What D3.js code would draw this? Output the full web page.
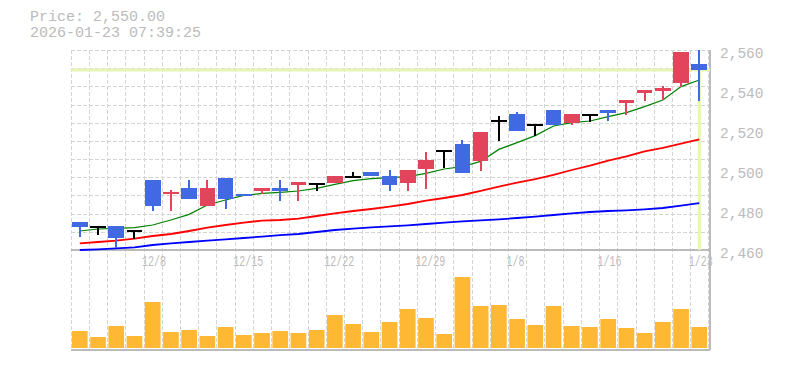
<!DOCTYPE html>
<html>
	<head>
		<meta charset="utf-8">
		<script type="text/javascript" src="https://cdn.jsdelivr.net/npm/d3@7/dist/d3.min.js"></script>
		<style>
			body { margin: 0; background: #fff; }
			text { font-family: "Liberation Mono", "DejaVu Sans Mono", monospace; fill: #bbb; }
		</style>
	</head>
	<body>
		<div id="chart"></div>
		<script language="javascript" type="text/javascript">

			///////////////////////////////////////////////////////////////////////////
			///////////////////////////////// Data ////////////////////////////////////
			var dates = ["12/2","12/3","12/4","12/5","12/8","12/9","12/10","12/11","12/12",
				"12/15","12/16","12/17","12/18","12/19","12/22","12/23","12/24","12/25","12/26",
				"12/29","12/30","1/5","1/6","1/7","1/8","1/9","1/13","1/14","1/15","1/16",
				"1/19","1/20","1/21","1/22","1/23"];
			var opens  = [2474,2472,2472,2470,2495,2488,2491,2482,2496,2488,2489.5,2491,2492.5,2493.5,2493.5,2497,2499,2497,2493.5,2500.5,2510,2513,2504.5,2525,2528,2523,2530,2523.5,2528,2530,2533.5,2538.5,2539.5,2543.5,2553];
			var highs  = [2474,2472,2472,2470,2495,2490,2495,2495,2496,2488,2491,2495,2494,2493.5,2497,2499,2499,2500,2500,2509,2510,2515,2519,2527,2529,2523,2530,2528,2528,2530,2535,2540,2542,2559,2560];
			var lows   = [2466.5,2467.5,2461,2465.5,2479.5,2479.5,2485.5,2482,2480.5,2487,2488,2484.5,2484.5,2489.5,2493.5,2497,2497,2489.5,2489.5,2490.5,2501,2498.5,2499.5,2514.5,2519.5,2517,2522.5,2522.5,2524,2524.5,2527.5,2534.5,2535,2541.5,2534.5];
			var closes = [2471.5,2472,2466,2470,2482,2489,2485.5,2491,2485.5,2487,2491,2489.5,2494,2493.5,2497,2497,2497,2492.5,2500,2505,2510,2498.5,2519,2525,2519.5,2523,2522.5,2528,2528,2528.5,2535,2540,2541,2559,2550];
			var volumes = [34000,22000,44000,24000,92000,32000,36000,24000,42000,26000,30000,34000,30000,36000,66000,48000,32000,52000,78000,60000,28000,142000,84000,86000,58000,46000,84000,44000,42000,58000,40000,30000,52000,78000,42000];
			var ma5  = [2469.5,2470.5,2470.8,2471.2,2472.5,2475,2477.8,2482.5,2485,2487.3,2488.3,2488.8,2489.5,2490.8,2492.8,2494.7,2495.7,2496.2,2496.7,2498.3,2500.5,2501.7,2504.3,2510.3,2513.7,2517.2,2522,2523.7,2524.5,2526.7,2528.7,2531.7,2535,2541.7,2545];
			var ma25 = [2463.3,2464,2464.7,2465.7,2467,2468,2469.5,2471.2,2472.5,2473.7,2474.7,2475,2475.7,2477,2478.3,2479.5,2480.5,2481.7,2483,2484.7,2486,2487.5,2489.6,2491.7,2493.7,2495.4,2497.6,2500,2502.2,2504.7,2506.8,2509.3,2511.1,2513.2,2515.3];
			var ma75 = [2460,2460.3,2460.8,2461.3,2462.5,2463.3,2464,2464.7,2465.3,2466,2466.7,2467.4,2468,2469,2470,2470.7,2471.3,2471.8,2472.3,2473,2473.7,2474.3,2474.8,2475.3,2476,2476.7,2477.5,2478.3,2479,2479.5,2479.8,2480.3,2481,2482.2,2483.4];
			var priceTicks = [2460,2480,2500,2520,2540,2560];
			var dateTicks = ["12/8","12/15","12/22","12/29","1/8","1/16","1/23"];
			var lastPrice = 2550;
			var stamp = "2026-01-23 07:39:25";

			///////////////////////////////////////////////////////////////////////////
			//////////////////// Set up and initiate svg containers ///////////////////
			var width = 785, height = 370;
			var plotLeft = 70.7, plotRight = 708.4, border = 710,
				plotTop = 50, priceBottom = 250, volTop = 262, volBottom = 348, plotBottom = 350;

			var svg = d3.select("#chart")
				.append("svg")
				.attr("width", width)
				.attr("height", height);

			var x = d3.scaleBand()
				.domain(dates)
				.range([plotLeft, plotRight])
				.paddingInner(0.14)
				.paddingOuter(0.07);
			var gap = (x.step() - x.bandwidth()) / 2;

			var y = d3.scaleLinear().domain([2460, 2560]).range([priceBottom, plotTop]);
			var yVol = d3.scaleLinear().domain([0, 172000]).range([volBottom, volTop]);
			var rows = d3.scaleLinear().domain([0, 11]).range([plotTop, priceBottom]);

			///////////////////////////////////////////////////////////////////////////
			//////////////////////////////// Grid /////////////////////////////////////
			var grid = svg.append("g")
				.style("stroke", "#d4d4d4")
				.style("stroke-width", 1)
				.style("stroke-dasharray", "4,2")
				.style("shape-rendering", "crispEdges");

			grid.selectAll(".h").data(d3.range(11))
				.enter().append("line")
				.attr("x1", plotLeft).attr("x2", border)
				.attr("y1", function(d) { return Math.round(rows(d)) + 0.5; })
				.attr("y2", function(d) { return Math.round(rows(d)) + 0.5; });

			grid.selectAll(".v").data(dates.concat(["end"]))
				.enter().append("line")
				.attr("x1", function(d, i) { return Math.round(i < dates.length ? x(d) - gap : plotRight) + 0.5; })
				.attr("x2", function(d, i) { return Math.round(i < dates.length ? x(d) - gap : plotRight) + 0.5; })
				.attr("y1", plotTop).attr("y2", plotBottom);

			//Axis frame lines
			var frame = svg.append("g")
				.style("stroke", "#bbb")
				.style("stroke-width", 1.5)
				.style("shape-rendering", "crispEdges");
			frame.append("line").attr("x1", plotLeft).attr("x2", border).attr("y1", priceBottom).attr("y2", priceBottom);
			frame.append("line").attr("x1", plotLeft).attr("x2", border).attr("y1", plotBottom).attr("y2", plotBottom);
			frame.append("line").attr("x1", border).attr("x2", border).attr("y1", plotTop).attr("y2", plotBottom);

			///////////////////////////////////////////////////////////////////////////
			///////////////////////////// Current price ///////////////////////////////
			var lastDate = dates[dates.length - 1];
			svg.append("line")
				.attr("x1", plotLeft).attr("x2", border)
				.attr("y1", y(lastPrice)).attr("y2", y(lastPrice))
				.style("stroke", "#e6f5b3").style("stroke-width", 3);
			svg.append("line")
				.attr("x1", x(lastDate) + x.bandwidth() / 2).attr("x2", x(lastDate) + x.bandwidth() / 2)
				.attr("y1", y(lastPrice)).attr("y2", priceBottom)
				.style("stroke", "#e6f5b3").style("stroke-width", 3);

			///////////////////////////////////////////////////////////////////////////
			//////////////////////////// Moving averages //////////////////////////////
			var line = d3.line()
				.x(function(d, i) { return x(dates[i]) + x.bandwidth() / 2; })
				.y(function(d) { return y(d); });

			svg.append("path").attr("d", line(ma75))
				.style("fill", "none").style("stroke", "#0000ff").style("stroke-width", 1.8);
			svg.append("path").attr("d", line(ma25))
				.style("fill", "none").style("stroke", "#ff0000").style("stroke-width", 1.8);
			svg.append("path").attr("d", line(ma5))
				.style("fill", "none").style("stroke", "#008000").style("stroke-width", 1.2);

			///////////////////////////////////////////////////////////////////////////
			/////////////////////////////// Candles ///////////////////////////////////
			function candleColor(i) {
				if (closes[i] > opens[i]) return "#e2445c";
				if (closes[i] < opens[i]) return "#4169e1";
				return "#000";
			}

			var candles = svg.append("g").style("shape-rendering", "crispEdges")
				.selectAll("g").data(dates)
				.enter().append("g");

			candles.append("line")
				.attr("x1", function(d) { return x(d) + x.bandwidth() / 2; })
				.attr("x2", function(d) { return x(d) + x.bandwidth() / 2; })
				.attr("y1", function(d, i) { return y(highs[i]); })
				.attr("y2", function(d, i) { return y(lows[i]); })
				.style("stroke", function(d, i) { return candleColor(i); })
				.style("stroke-width", 2);

			candles.append("rect")
				.attr("x", function(d) { return x(d); })
				.attr("width", x.bandwidth())
				.attr("y", function(d, i) { return y(Math.max(opens[i], closes[i])); })
				.attr("height", function(d, i) { return Math.max(2, Math.abs(y(opens[i]) - y(closes[i]))); })
				.style("fill", function(d, i) { return candleColor(i); });

			///////////////////////////////////////////////////////////////////////////
			//////////////////////////////// Volume ///////////////////////////////////
			svg.append("g").selectAll("rect").data(volumes)
				.enter().append("rect")
				.attr("x", function(d, i) { return x(dates[i]); })
				.attr("width", x.bandwidth())
				.attr("y", function(d) { return yVol(d); })
				.attr("height", function(d) { return volBottom - yVol(d); })
				.style("fill", "#ffb833");

			///////////////////////////////////////////////////////////////////////////
			/////////////////////////////// Labels ////////////////////////////////////
			var yAxis = svg.append("g")
				.attr("transform", "translate(" + border + ",0)")
				.call(d3.axisRight(y).tickValues(priceTicks).tickSize(0).tickPadding(10).tickFormat(d3.format(",")));
			yAxis.select(".domain").remove();
			yAxis.selectAll("text")
				.attr("dy", "7px")
				.style("font-family", "'Liberation Mono', monospace")
				.style("font-size", "14.5px")
				.style("fill", "#bbb");

			svg.append("g").selectAll("text").data(dateTicks)
				.enter().append("text")
				.attr("transform", function(d) { return "translate(" + (x(d) - gap - 1.5) + ",266) scale(0.69,1)"; })
				.style("font-size", "14.5px")
				.text(function(d) { return d; });

			svg.append("text").attr("x", 30).attr("y", 21)
				.style("font-size", "15px")
				.text("Price: " + d3.format(",.2f")(lastPrice));
			svg.append("text").attr("x", 30).attr("y", 37)
				.style("font-size", "15px")
				.text(stamp);
		</script>
	</body>
</html>
